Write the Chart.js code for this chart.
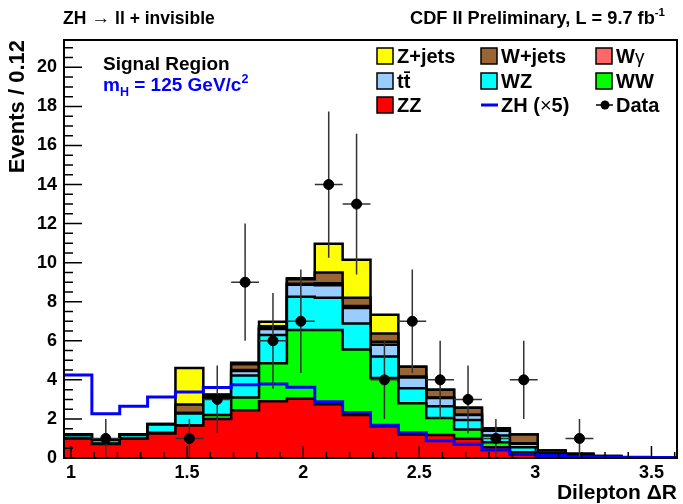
<!DOCTYPE html>
<html>
<head>
<meta charset="utf-8">
<script src="https://cdn.jsdelivr.net/npm/chart.js@4.4.1/dist/chart.umd.min.js"></script>
<style>
  body { margin: 0; background: #fff; }
  canvas { display: block; }
</style>
</head>
<body>
<canvas id="chart" width="683" height="504"></canvas>
<script>
// bin centres of the Dilepton dR histogram (width 0.12)
const binCenters = [1.03, 1.15, 1.27, 1.39, 1.51, 1.63, 1.75, 1.87, 1.99, 2.11, 2.23,
                    2.35, 2.47, 2.59, 2.71, 2.83, 2.95, 3.07, 3.19, 3.31, 3.43, 3.55];
const binWidth = 0.12;

// backgrounds, stacked bottom -> top
const zz     = [1.00, 0.72, 0.98, 1.25, 1.66, 2.00, 2.45, 2.90, 3.05, 2.75, 2.20, 1.62, 1.20, 1.18, 0.98, 0.55, 0.18, 0.06, 0.03, 0.02, 0.01, 0.00];
const ww     = [0.03, 0.02, 0.02, 0.04, 0.02, 0.20, 0.65, 1.95, 3.50, 3.80, 3.35, 2.48, 1.60, 0.87, 0.48, 0.26, 0.12, 0.04, 0.02, 0.01, 0.01, 0.00];
const wz     = [0.15, 0.18, 0.18, 0.42, 0.60, 0.85, 1.13, 1.45, 1.70, 1.65, 1.33, 1.10, 0.77, 0.60, 0.48, 0.34, 0.25, 0.06, 0.04, 0.02, 0.00, 0.00];
const ttbar  = [0.02, 0.02, 0.02, 0.02, 0.02, 0.07, 0.22, 0.30, 0.62, 0.65, 0.80, 0.60, 0.55, 0.42, 0.26, 0.25, 0.18, 0.07, 0.05, 0.02, 0.01, 0.01];
const wgamma = [0.00, 0.00, 0.00, 0.00, 0.01, 0.03, 0.05, 0.05, 0.05, 0.10, 0.10, 0.15, 0.05, 0.03, 0.02, 0.02, 0.02, 0.00, 0.00, 0.00, 0.00, 0.00];
const wjets  = [0.02, 0.01, 0.01, 0.01, 0.43, 0.08, 0.30, 0.10, 0.23, 0.55, 0.42, 0.42, 0.50, 0.40, 0.35, 0.10, 0.45, 0.15, 0.08, 0.03, 0.01, 0.01];
const zjets  = [0.00, 0.00, 0.00, 0.00, 1.87, 0.02, 0.08, 0.22, 0.05, 1.47, 1.95, 0.97, 0.00, 0.00, 0.00, 0.00, 0.00, 0.00, 0.00, 0.00, 0.00, 0.00];
// signal x5
const zh     = [4.25, 2.27, 2.65, 3.12, 3.38, 3.61, 3.75, 3.79, 3.62, 2.88, 2.33, 1.68, 1.29, 0.88, 0.71, 0.41, 0.18, 0.13, 0.07, 0.05, 0.04, 0.03];
const dataCounts = [0, 1, 0, 0, 1, 3, 9, 6, 7, 14, 13, 4, 7, 4, 3, 1, 4, 0, 1, 0, 0, 0];

const xTicks = [1, 1.5, 2, 2.5, 3, 3.5];
const yTicks = [0, 2, 4, 6, 8, 10, 12, 14, 16, 18, 20];

const layerNames  = ['ZZ', 'WW', 'WZ', 'tt', 'Wgamma', 'W+jets', 'Z+jets'];
const layerColors = ['#ff0000', '#00ff00', '#00ffff', '#99ccff', '#ff6666', '#996633', '#ffff00'];
const layers = [zz, ww, wz, ttbar, wgamma, wjets, zjets];

const FONT = 'Liberation Sans, Arial, Helvetica, sans-serif';

function edge(v) { return Math.round(v * 1000) / 1000; }

// step outline: one point at each low edge, plus the last high edge
function stepPoints(values) {
  const pts = values.map((v, i) => ({ x: edge(binCenters[i] - binWidth / 2), y: v }));
  const last = values.length - 1;
  pts.push({ x: edge(binCenters[last] + binWidth / 2), y: values[last] });
  return pts;
}

// cumulative sums, as THStack does
const cumulative = [];
let running = binCenters.map(() => 0);
layers.forEach(l => {
  running = running.map((v, i) => v + l[i]);
  cumulative.push(running);
});

const datasets = [];
cumulative.forEach((c, k) => {
  datasets.push({
    type: 'line',
    label: layerNames[k],
    data: stepPoints(c),
    stepped: true,
    fill: 'origin',
    backgroundColor: layerColors[k],
    borderColor: '#000',
    borderWidth: 2.5,
    pointRadius: 0,
    order: 10 + k
  });
});

datasets.push({
  type: 'line',
  label: 'ZH',
  data: stepPoints(zh),
  stepped: true,
  fill: false,
  borderColor: '#0000ff',
  borderWidth: 3,
  pointRadius: 0,
  order: 2
});

const dataPoints = [];
dataCounts.forEach((n, i) => { if (n > 0) dataPoints.push({ x: binCenters[i], y: n }); });

datasets.push({
  type: 'scatter',
  label: 'Data',
  data: dataPoints,
  pointRadius: 5,
  pointBackgroundColor: '#000',
  pointBorderColor: '#000',
  order: 1
});

const errorBars = {
  id: 'errorBars',
  beforeDatasetDraw(chart, args) {
    if (chart.data.datasets[args.index].label !== 'Data') return;
    const { ctx, scales: { x, y } } = chart;
    ctx.save();
    ctx.strokeStyle = '#333';
    ctx.lineWidth = 1.5;
    ctx.beginPath();
    dataPoints.forEach(p => {
      const err = Math.sqrt(p.y);
      const px = x.getPixelForValue(p.x);
      const py = y.getPixelForValue(p.y);
      ctx.moveTo(px, y.getPixelForValue(p.y - err));
      ctx.lineTo(px, y.getPixelForValue(p.y + err));
      ctx.moveTo(x.getPixelForValue(p.x - binWidth / 2), py);
      ctx.lineTo(x.getPixelForValue(p.x + binWidth / 2), py);
    });
    ctx.stroke();
    ctx.restore();
  }
};

const frameTicks = {
  id: 'frameTicks',
  afterDatasetsDraw(chart) {
    const { ctx, chartArea: a, scales: { x, y } } = chart;
    ctx.save();
    ctx.strokeStyle = '#000';
    ctx.lineWidth = 1.5;
    ctx.beginPath();
    for (let i = 0; i <= 42; i++) {
      const py = y.getPixelForValue(i / 2);
      const len = i % 4 === 0 ? 18 : 9;
      ctx.moveTo(a.left, py);
      ctx.lineTo(a.left + len, py);
    }
    for (let i = 10; i <= 36; i++) {
      const px = x.getPixelForValue(i / 10);
      const len = i % 5 === 0 ? 12 : 6;
      ctx.moveTo(px, a.bottom);
      ctx.lineTo(px, a.bottom - len);
    }
    ctx.stroke();
    ctx.lineWidth = 2;
    ctx.strokeRect(a.left, a.top, a.right - a.left, a.bottom - a.top);
    ctx.restore();
  }
};

function runs(ctx, parts, x, y) {
  // parts: [text, size, dy, weight]
  parts.forEach(p => {
    ctx.font = (p[3] || 'bold') + ' ' + p[1] + 'px ' + FONT;
    ctx.fillText(p[0], x, y + (p[2] || 0));
    x += ctx.measureText(p[0]).width;
  });
  return x;
}

function runsWidth(ctx, parts) {
  let w = 0;
  parts.forEach(p => { ctx.font = (p[3] || 'bold') + ' ' + p[1] + 'px ' + FONT; w += ctx.measureText(p[0]).width; });
  return w;
}

const labels = {
  id: 'labels',
  afterDraw(chart) {
    const ctx = chart.ctx;
    ctx.save();
    ctx.fillStyle = '#000';
    ctx.textBaseline = 'alphabetic';
    ctx.textAlign = 'left';

    runs(ctx, [['ZH ', 17.5], ['\u2192', 19, 0, 'normal'], [' ll + invisible', 17.5]], 63, 24);

    const cdf = [['CDF II Preliminary, L = 9.7 fb', 18.2], ['-1', 11.5, -8]];
    runs(ctx, cdf, 665 - runsWidth(ctx, cdf), 24);

    runs(ctx, [['Signal Region', 19]], 103, 70);
    ctx.fillStyle = '#0000ff';
    runs(ctx, [['m', 19], ['H', 12.5, 5], [' = 125 GeV/c', 19], ['2', 12.5, -8]], 103, 91);

    // legend
    const cols = [377, 481, 596];
    const rows = [56, 81, 105];
    const entries = [
      [[['Z+jets', 20]], 'box', '#ffff00'], [[['W+jets', 20]], 'box', '#996633'], [[['W', 20], ['\u03b3', 19, 0, 'normal']], 'box', '#ff6666'],
      [[['tt\u0304', 20]], 'box', '#99ccff'], [[['WZ', 20]], 'box', '#00ffff'], [[['WW', 20]], 'box', '#00ff00'],
      [[['ZZ', 20]], 'box', '#ff0000'], [[['ZH (', 20], ['\u00d7', 20, 0, 'normal'], ['5)', 20]], 'line', '#0000ff'], [[['Data', 20]], 'marker', '#000']
    ];
    entries.forEach((e, i) => {
      const bx = cols[i % 3];
      const cy = rows[Math.floor(i / 3)];
      if (e[1] === 'box') {
        ctx.fillStyle = e[2];
        ctx.fillRect(bx, cy - 8, 16, 16);
        ctx.strokeStyle = '#000';
        ctx.lineWidth = 1.5;
        ctx.strokeRect(bx, cy - 8, 16, 16);
      } else if (e[1] === 'line') {
        ctx.strokeStyle = e[2];
        ctx.lineWidth = 3;
        ctx.beginPath();
        ctx.moveTo(bx, cy);
        ctx.lineTo(bx + 17, cy);
        ctx.stroke();
      } else {
        ctx.strokeStyle = '#000';
        ctx.lineWidth = 1.5;
        ctx.beginPath();
        ctx.moveTo(bx, cy);
        ctx.lineTo(bx + 17, cy);
        ctx.stroke();
        ctx.fillStyle = '#000';
        ctx.beginPath();
        ctx.arc(bx + 9, cy, 4.5, 0, Math.PI * 2);
        ctx.fill();
      }
      ctx.fillStyle = '#000';
      runs(ctx, e[0], bx + 20, cy + 7);
    });
    ctx.restore();
  }
};

new Chart(document.getElementById('chart'), {
  type: 'line',
  data: { datasets: datasets },
  options: {
    responsive: false,
    animation: false,
    layout: { padding: { top: 40, right: 1, left: 0, bottom: 0 } },
    plugins: { legend: { display: false }, tooltip: { enabled: false } },
    scales: {
      x: {
        type: 'linear',
        min: 0.97,
        max: 3.61,
        afterFit(scale) { scale.height = 46; },
        afterBuildTicks(scale) { scale.ticks = xTicks.map(v => ({ value: v })); },
        grid: { display: false, drawTicks: false },
        border: { display: false },
        ticks: {
          padding: 4,
          color: '#000',
          font: { family: FONT, size: 18, weight: 'bold' },
          callback: v => String(v)
        },
        title: {
          display: true,
          text: 'Dilepton \u0394R',
          align: 'end',
          color: '#000',
          font: { family: FONT, size: 21, weight: 'bold', lineHeight: 1 },
          padding: { top: 0, bottom: 0 }
        }
      },
      y: {
        min: 0,
        max: 21.4,
        afterFit(scale) { scale.width = 64; },
        afterBuildTicks(scale) { scale.ticks = yTicks.map(v => ({ value: v })); },
        grid: { display: false, drawTicks: false },
        border: { display: false },
        ticks: {
          padding: 7,
          color: '#000',
          font: { family: FONT, size: 18, weight: 'bold' },
          callback: v => String(v)
        },
        title: {
          display: true,
          text: 'Events / 0.12',
          align: 'end',
          color: '#000',
          font: { family: FONT, size: 22, weight: 'bold', lineHeight: 1 },
          padding: { top: 7, bottom: 0 }
        }
      }
    }
  },
  plugins: [errorBars, frameTicks, labels]
});
</script>
</body>
</html>
